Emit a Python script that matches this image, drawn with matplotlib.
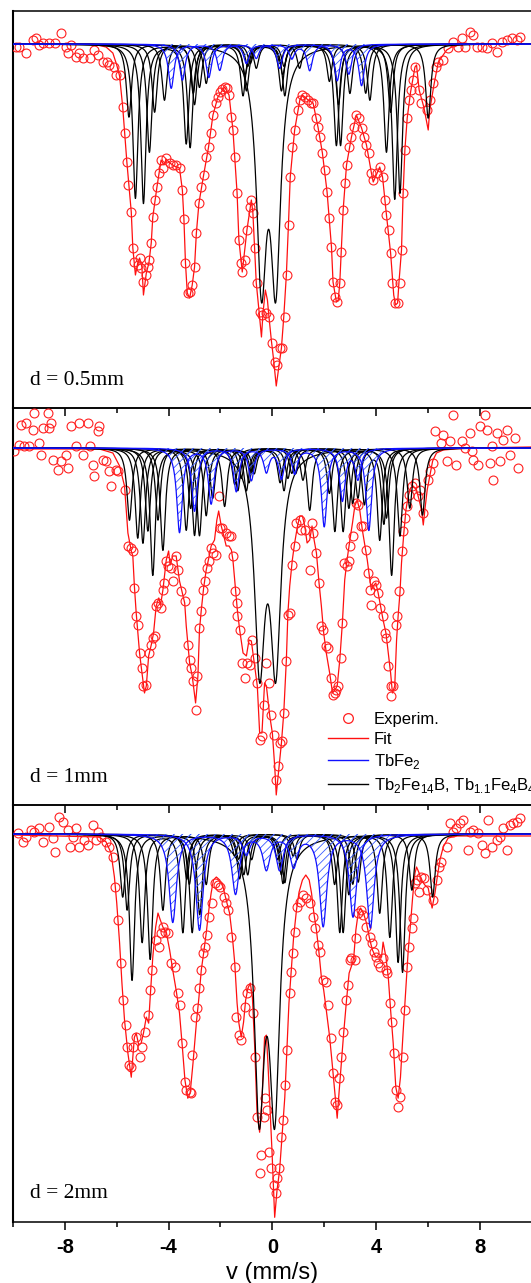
import numpy as np
import matplotlib
matplotlib.use("Agg")
import matplotlib.pyplot as plt
from matplotlib.lines import Line2D
from matplotlib.ticker import MultipleLocator

plt.rcParams['font.family'] = 'Liberation Sans'
plt.rcParams['mathtext.fontset'] = 'custom'
plt.rcParams['mathtext.rm'] = 'Liberation Sans'
plt.rcParams['axes.unicode_minus'] = False
plt.rcParams['hatch.linewidth'] = 0.6

# ---------------- d = 0.5 mm ----------------
# experimental points: (velocity mm/s, absorption arb. units)
exp_05 = [(-9.88, 3), (-9.76, 3), (-9.50, 9), (-9.24, -4), (-9.11, -6), (-8.98, 1), (-8.85, -1), (-8.60, -1),
          (-8.40, -1), (-8.15, -11), (-7.95, 3), (-7.89, 9), (-7.76, 1), (-7.57, 13), (-7.44, 9), (-7.31, 14),
          (-7.05, 14), (-6.86, 6), (-6.73, 11), (-6.54, 18), (-6.38, 18), (-6.28, 21), (-6.09, 23), (-6.02, 31),
          (-5.89, 31), (-5.77, 63), (-5.70, 89), (-5.61, 118), (-5.55, 141), (-5.44, 168), (-5.38, 204), (-5.32, 218),
          (-5.19, 221), (-5.12, 214), (-5.06, 224), (-4.99, 238), (-4.89, 231), (-4.80, 223), (-4.74, 216), (-4.67, 199),
          (-4.61, 173), (-4.52, 156), (-4.45, 143), (-4.38, 129), (-4.29, 116), (-4.20, 124), (-4.09, 114), (-3.96, 119),
          (-3.84, 121), (-3.73, 121), (-3.58, 124), (-3.47, 146), (-3.41, 175), (-3.35, 219), (-3.26, 249), (-3.17, 248),
          (-3.09, 241), (-3.00, 223), (-2.93, 189), (-2.83, 159), (-2.74, 143), (-2.65, 131), (-2.55, 113), (-2.46, 103),
          (-2.38, 89), (-2.29, 71), (-2.19, 59), (-2.10, 53), (-2.01, 48), (-1.93, 45), (-1.84, 43), (-1.75, 44),
          (-1.67, 51), (-1.58, 73), (-1.52, 86), (-1.43, 113), (-1.36, 149), (-1.29, 196), (-1.22, 219), (-1.16, 228),
          (-1.07, 216), (-0.98, 186), (-0.88, 163), (-0.81, 156), (-0.75, 169), (-0.68, 204), (-0.58, 239), (-0.49, 268),
          (-0.40, 271), (-0.23, 269), (-0.13, 273), (0.00, 299), (0.09, 318), (0.19, 321), (0.28, 304), (0.39, 304),
          (0.48, 273), (0.57, 231), (0.63, 181), (0.69, 133), (0.77, 103), (0.86, 86), (0.97, 66), (1.06, 56),
          (1.16, 51), (1.25, 53), (1.38, 56), (1.48, 59), (1.57, 59), (1.67, 74), (1.76, 83), (1.85, 93),
          (1.93, 109), (2.02, 126), (2.11, 148), (2.19, 174), (2.28, 203), (2.34, 238), (2.41, 253), (2.50, 258),
          (2.60, 239), (2.66, 208), (2.73, 166), (2.79, 139), (2.86, 121), (2.95, 103), (3.05, 93), (3.14, 83),
          (3.24, 71), (3.35, 74), (3.44, 84), (3.54, 93), (3.63, 101), (3.73, 109), (3.82, 129), (3.89, 136),
          (4.02, 129), (4.14, 123), (4.25, 133), (4.34, 156), (4.40, 171), (4.49, 186), (4.56, 209), (4.62, 239),
          (4.72, 259), (4.83, 259), (4.92, 239), (4.98, 206), (5.04, 149), (5.11, 106), (5.20, 74), (5.28, 56),
          (5.33, 46), (5.41, 36), (5.50, 23), (5.66, 46), (5.75, 59), (5.95, 66), (6.07, 56), (6.20, 39),
          (6.31, 23), (6.40, 18), (6.59, 16), (6.78, 4), (6.98, -2), (7.17, 3), (7.30, -6), (7.43, 3),
          (7.62, -12), (7.75, -9), (7.88, 3), (8.07, 3), (8.26, 4), (8.46, -1), (8.65, 8), (8.84, -2),
          (9.03, -4), (9.23, -6), (9.42, -4), (9.55, -7)]

fit_05 = [(-10.0, 0), (-6.92, 0), (-6.41, 3), (-6.15, 9), (-6.00, 21), (-5.89, 32), (-5.77, 63), (-5.61, 118),
          (-5.44, 168), (-5.38, 204), (-5.28, 231), (-5.19, 219), (-5.12, 214), (-5.03, 223), (-4.97, 251), (-4.86, 229),
          (-4.76, 219), (-4.67, 199), (-4.61, 173), (-4.45, 143), (-4.29, 116), (-4.18, 121), (-4.09, 115), (-3.96, 119),
          (-3.71, 123), (-3.58, 124), (-3.47, 146), (-3.41, 175), (-3.35, 219), (-3.28, 249), (-3.19, 254), (-3.09, 241),
          (-3.00, 223), (-2.93, 189), (-2.83, 159), (-2.65, 131), (-2.46, 103), (-2.29, 71), (-2.10, 53), (-1.84, 43),
          (-1.67, 51), (-1.52, 86), (-1.36, 149), (-1.29, 196), (-1.16, 228), (-0.98, 186), (-0.81, 156), (-0.75, 169),
          (-0.62, 239), (-0.51, 268), (-0.42, 293), (-0.36, 269), (-0.27, 246), (-0.19, 256), (-0.13, 273), (-0.04, 296),
          (0.05, 316), (0.15, 342), (0.26, 321), (0.35, 304), (0.44, 273), (0.54, 231), (0.62, 181), (0.69, 133),
          (0.86, 86), (1.06, 56), (1.16, 51), (1.38, 56), (1.57, 59), (1.76, 83), (1.93, 109), (2.11, 148),
          (2.28, 203), (2.34, 238), (2.47, 258), (2.54, 256), (2.60, 239), (2.73, 166), (2.86, 121), (3.05, 93),
          (3.24, 71), (3.44, 84), (3.63, 101), (3.82, 129), (3.89, 138), (4.04, 129), (4.14, 123), (4.25, 133),
          (4.40, 171), (4.56, 209), (4.68, 251), (4.75, 261), (4.83, 259), (4.88, 239), (4.98, 206), (5.04, 151),
          (5.11, 106), (5.20, 74), (5.33, 48), (5.50, 23), (5.56, 21), (5.66, 46), (5.84, 63), (6.01, 86),
          (6.07, 66), (6.23, 41), (6.40, 18), (6.72, 6), (6.98, 2), (7.49, 0), (10.0, 0)]

# Tb2Fe14B sextets (line positions mm/s, line depths)
black_pos_05 = [[-5.28, -3.17, -1.13, 0.48, 2.63, 4.92], [-4.97, -3.32, -1.00, 0.35, 2.47, 4.72],
                [-5.53, -3.05, -0.62, 1.05, 3.60, 6.01], [-4.74, -3.00, -1.05, 0.40, 2.55, 4.40],
                [-4.54, -2.81, -0.95, 0.45, 2.99, 4.56], [-4.16, -2.55, -0.85, 0.30, 2.20, 3.76]]
black_dep_05 = [[154, 103, 51, 51, 101, 149], [159, 99, 46, 46, 101, 155],
                [73, 49, 24, 24, 49, 74], [108, 60, 30, 30, 60, 108],
                [68, 43, 22, 22, 49, 68], [56, 39, 19, 19, 37, 56]]
# Tb1.1Fe4B4 doublet
dbl_pos_05 = [-0.42, 0.13]
dbl_dep_05 = [225, 225]
# TbFe2 sextets
blue_pos_05 = [[-3.90, -2.45, -1.00, 0.28, 2.50, 3.44], [-3.47, -2.03, -0.62, 0.75, 1.44, 2.95]]
blue_dep_05 = [[44, 33, 19, 24, 36, 41], [36, 26, 14, 14, 26, 30]]

# ---------------- d = 1 mm ----------------
exp_1 = [(-9.95, 3), (-9.76, -3), (-9.69, -23), (-9.56, -2), (-9.50, -25), (-9.37, -2), (-9.24, -18), (-9.18, -35),
         (-8.98, -5), (-8.92, 7), (-8.85, -20), (-8.66, -35), (-8.60, -20), (-8.53, -25), (-8.47, 12), (-8.28, 22),
         (-8.15, 13), (-7.95, 7), (-7.89, 20), (-7.76, -22), (-7.57, -2), (-7.44, -25), (-7.31, 7), (-7.12, -25),
         (-7.05, -2), (-6.92, 17), (-6.86, 28), (-6.73, -17), (-6.67, -22), (-6.54, 12), (-6.41, 13), (-6.28, 23),
         (-6.22, 38), (-6.02, 22), (-5.96, 23), (-5.70, 42),
         (-5.57, 98), (-5.44, 100), (-5.38, 103), (-5.32, 140), (-5.25, 168), (-5.19, 177), (-5.12, 205), (-5.02, 220),
         (-4.97, 238), (-4.86, 237), (-4.77, 205), (-4.67, 197), (-4.61, 190), (-4.54, 188), (-4.48, 158), (-4.41, 155),
         (-4.31, 160), (-4.22, 142), (-4.16, 135), (-4.09, 113), (-4.03, 118), (-3.90, 120), (-3.84, 133), (-3.73, 108),
         (-3.64, 122), (-3.51, 143), (-3.38, 153), (-3.26, 197), (-3.19, 212), (-3.13, 220), (-3.06, 233), (-2.96, 262),
         (-2.90, 228), (-2.83, 180), (-2.77, 163), (-2.68, 142), (-2.61, 133), (-2.52, 120), (-2.45, 113), (-2.38, 100),
         (-2.29, 105), (-2.19, 107), (-2.06, 48), (-2.03, 80), (-1.93, 80), (-1.80, 85), (-1.67, 88), (-1.58, 88),
         (-1.52, 108), (-1.43, 143), (-1.36, 155), (-1.35, 168), (-1.26, 182), (-1.16, 215), (-1.07, 230), (-0.98, 215),
         (-0.88, 217), (-0.79, 192), (-0.68, 210), (-0.58, 235), (-0.49, 292), (-0.40, 288), (-0.32, 257), (-0.23, 215),
         (-0.13, 235), (-0.04, 267), (0.05, 287), (0.13, 332), (0.22, 318), (0.31, 295), (0.39, 293), (0.45, 265),
         (0.54, 213), (0.60, 167), (0.69, 165), (0.77, 117), (0.86, 98), (0.93, 75), (1.06, 72), (1.12, 82),
         (1.25, 82), (1.44, 122), (1.51, 75), (1.57, 85), (1.70, 105), (1.80, 135), (1.89, 178), (1.96, 182),
         (2.06, 198), (2.15, 200), (2.25, 230), (2.32, 247), (2.41, 245), (2.47, 242), (2.54, 238), (2.63, 210),
         (2.70, 175), (2.77, 115), (2.86, 118), (2.96, 113), (3.01, 98), (3.11, 88), (3.22, 55), (3.31, 57),
         (3.40, 78), (3.50, 78), (3.63, 102), (3.69, 125), (3.76, 142), (3.82, 157), (3.91, 133), (3.99, 137),
         (4.08, 145), (4.14, 160), (4.27, 168), (4.34, 185), (4.40, 190), (4.47, 218), (4.56, 238), (4.59, 248),
         (4.66, 238), (4.76, 177), (4.81, 168), (4.89, 143), (4.98, 103), (5.04, 83), (5.11, 70), (5.20, 58),
         (5.28, 47), (5.37, 38), (5.50, 35), (5.62, 48), (5.71, 42), (5.82, 65), (6.01, 32), (6.07, 23),
         (6.20, 15), (6.27, -17), (6.52, -5), (6.59, -13), (6.72, 13), (6.85, -7), (6.98, -33), (7.10, 17),
         (7.30, -7), (7.43, 0), (7.62, -15), (7.68, 3), (7.75, 12), (7.94, 17), (8.01, -22), (8.20, -33),
         (8.26, -18), (8.39, 15), (8.46, -2), (8.52, 32), (8.65, -15), (8.78, 13), (8.91, -8), (9.03, -18),
         (9.16, 7), (9.36, -10), (9.49, 20)]

fit_1 = [(-10.0, 1), (-6.67, 1), (-6.15, 5), (-5.89, 18), (-5.70, 38), (-5.57, 85), (-5.44, 103), (-5.38, 108),
         (-5.32, 138), (-5.25, 165), (-5.12, 205), (-5.06, 218), (-4.93, 245), (-4.86, 238), (-4.77, 208), (-4.67, 197),
         (-4.58, 185), (-4.48, 158), (-4.38, 150), (-4.31, 157), (-4.22, 142), (-4.09, 112), (-4.00, 103), (-3.94, 117),
         (-3.84, 108), (-3.71, 108), (-3.58, 133), (-3.47, 145), (-3.38, 155), (-3.32, 178), (-3.19, 215), (-3.09, 228),
         (-2.96, 255), (-2.87, 228), (-2.81, 182), (-2.74, 162), (-2.65, 140), (-2.55, 122), (-2.45, 110), (-2.36, 98),
         (-2.23, 92), (-2.14, 72), (-2.07, 63), (-1.97, 78), (-1.88, 87), (-1.78, 98), (-1.67, 98), (-1.58, 102),
         (-1.52, 112), (-1.43, 138), (-1.35, 162), (-1.26, 182), (-1.13, 205), (-1.00, 208), (-0.90, 192), (-0.81, 193),
         (-0.68, 218), (-0.58, 238), (-0.49, 285), (-0.40, 285), (-0.30, 235), (-0.23, 238), (-0.10, 268), (0.00, 285),
         (0.09, 318), (0.15, 347), (0.26, 318), (0.35, 295), (0.44, 265), (0.54, 212), (0.60, 165), (0.67, 138),
         (0.77, 112), (0.86, 95), (0.97, 78), (1.06, 68), (1.16, 68), (1.25, 78), (1.34, 95), (1.44, 92),
         (1.53, 78), (1.61, 92), (1.70, 105), (1.80, 135), (1.89, 158), (1.98, 185), (2.08, 205), (2.21, 225),
         (2.32, 245), (2.41, 242), (2.50, 238), (2.60, 212), (2.70, 175), (2.79, 132), (2.88, 112), (2.99, 92),
         (3.09, 75), (3.18, 58), (3.27, 52), (3.37, 62), (3.47, 82), (3.57, 98), (3.66, 112), (3.76, 132),
         (3.82, 142), (3.89, 138), (3.99, 135), (4.08, 145), (4.17, 158), (4.27, 172), (4.38, 185), (4.47, 205),
         (4.56, 225), (4.63, 245), (4.72, 238), (4.79, 192), (4.85, 168), (4.92, 145), (4.98, 115), (5.07, 85),
         (5.15, 62), (5.24, 48), (5.33, 40), (5.43, 38), (5.56, 42), (5.66, 52), (5.75, 62), (5.82, 77),
         (5.88, 62), (5.97, 42), (6.07, 28), (6.18, 13), (6.33, 5), (6.59, 2), (7.49, 0), (10.0, -1)]

black_pos_1 = [[-4.61, -2.81, -1.00, 0.45, 2.73, 4.60], [-4.22, -2.55, -0.90, 0.30, 2.41, 4.14],
               [-4.99, -3.00, -1.33, 0.60, 2.95, 4.92], [-5.51, -3.32, -1.45, 1.18, 3.30, 5.79],
               [-5.19, -3.15, -1.20, 1.44, 3.10, 5.30], [-4.41, -1.84, -0.70, 0.90, 2.20, 4.40],
               [-4.80, -2.30, -0.80, 0.75, 3.55, 4.30]]
black_dep_1 = [[127, 87, 42, 42, 83, 127], [102, 67, 34, 34, 83, 92],
               [95, 87, 42, 30, 60, 88], [72, 82, 36, 32, 50, 67],
               [90, 60, 30, 62, 55, 60], [72, 58, 25, 25, 45, 70],
               [83, 50, 25, 25, 55, 75]]
dbl_pos_1 = [-0.49, 0.13]
dbl_dep_1 = [208, 208]
blue_pos_1 = [[-3.58, -2.36, -0.81, 0.86, 2.00, 3.72], [-3.00, -1.39, -0.23, 0.35, 2.70, 3.30]]
blue_dep_1 = [[84, 55, 32, 25, 78, 82], [63, 43, 23, 30, 52, 30]]

# ---------------- d = 2 mm ----------------
exp_2 = [(-9.82, -1), (-9.63, 8), (-9.50, 3), (-9.31, -4), (-9.18, -2), (-8.98, -6), (-8.85, 8), (-8.60, -7),
         (-8.47, 4), (-8.40, 18), (-8.21, -17), (-8.08, -12), (-7.89, -4), (-7.82, 13), (-7.70, 3), (-7.57, -6),
         (-7.44, 13), (-7.25, 6), (-7.12, 11), (-6.92, -9), (-6.80, 6), (-6.73, -2), (-6.60, 3), (-6.41, 8),
         (-6.28, 13), (-6.15, 23),
         (-6.05, 53), (-5.96, 86), (-5.83, 129), (-5.74, 166), (-5.66, 191), (-5.60, 213), (-5.53, 231), (-5.44, 233),
         (-5.38, 213), (-5.25, 203), (-5.12, 223), (-5.02, 213), (-4.90, 198), (-4.80, 181), (-4.71, 156), (-4.63, 136),
         (-4.48, 106), (-4.38, 113), (-4.29, 99), (-4.22, 93), (-4.13, 98), (-4.03, 99), (-3.90, 129), (-3.77, 133),
         (-3.64, 159), (-3.55, 171), (-3.47, 209), (-3.38, 248), (-3.32, 256), (-3.19, 258), (-3.13, 259), (-3.09, 221),
         (-3.00, 183), (-2.91, 174), (-2.83, 154), (-2.77, 136), (-2.68, 119), (-2.59, 113), (-2.52, 101), (-2.45, 83),
         (-2.32, 69), (-2.23, 49), (-2.10, 51), (-2.01, 53), (-1.88, 63), (-1.78, 69), (-1.71, 76), (-1.58, 103),
         (-1.45, 133), (-1.39, 183), (-1.29, 201), (-1.20, 206), (-1.07, 173), (-0.98, 159), (-0.88, 154), (-0.75, 179),
         (-0.68, 223), (-0.59, 283), (-0.49, 339), (-0.42, 321), (-0.32, 283), (-0.27, 264), (-0.19, 276), (-0.13, 318),
         (-0.04, 334), (0.05, 351), (0.13, 359), (0.18, 344), (0.26, 334), (0.35, 303), (0.41, 286), (0.50, 251),
         (0.58, 216), (0.67, 159), (0.73, 138), (0.80, 119), (0.89, 98), (0.95, 73), (1.06, 68), (1.18, 61),
         (1.31, 64), (1.44, 69), (1.57, 83), (1.63, 94), (1.76, 111), (1.85, 118), (1.96, 146), (2.06, 148),
         (2.15, 171), (2.25, 204), (2.34, 239), (2.41, 268), (2.50, 271), (2.57, 244), (2.66, 223), (2.73, 198),
         (2.83, 166), (2.90, 151), (2.99, 126), (3.05, 124), (3.18, 126), (3.22, 104), (3.31, 79), (3.40, 76),
         (3.50, 81), (3.63, 93), (3.76, 103), (3.86, 109), (3.91, 118), (3.99, 123), (4.08, 129), (4.17, 133),
         (4.27, 124), (4.38, 136), (4.44, 139), (4.53, 169), (4.62, 188), (4.68, 219), (4.76, 256), (4.85, 273),
         (4.92, 263), (5.02, 223), (5.11, 176), (5.20, 133), (5.28, 113), (5.37, 94), (5.43, 84), (5.50, 49),
         (5.56, 46), (5.66, 58), (5.75, 43), (5.84, 44), (5.97, 56), (6.20, 66), (6.33, 46), (6.44, 33),
         (6.52, 28), (6.72, 13), (6.85, -11), (6.98, -2), (7.10, -6), (7.23, -11), (7.36, -14), (7.55, 16),
         (7.62, -2), (7.75, -4), (7.94, -1), (8.07, 11), (8.20, 19), (8.33, -14), (8.46, 13), (8.65, 6),
         (8.78, 3), (8.91, -6), (9.03, 16), (9.16, -9), (9.29, -11), (9.42, -12), (9.55, -16)]

fit_2 = [(-10.0, 1), (-6.67, 3), (-6.41, 8), (-6.22, 19), (-6.09, 43), (-6.00, 69), (-5.89, 109), (-5.80, 149),
         (-5.70, 186), (-5.57, 219), (-5.44, 243), (-5.32, 203), (-5.25, 199), (-5.15, 211), (-5.06, 209), (-4.97, 199),
         (-4.86, 183), (-4.77, 189), (-4.71, 163), (-4.61, 123), (-4.50, 93), (-4.41, 79), (-4.32, 86), (-4.22, 93),
         (-4.09, 98), (-3.96, 116), (-3.84, 136), (-3.71, 156), (-3.58, 179), (-3.47, 213), (-3.37, 246), (-3.26, 264),
         (-3.17, 259), (-3.06, 229), (-2.93, 189), (-2.83, 163), (-2.74, 136), (-2.65, 119), (-2.55, 99), (-2.45, 76),
         (-2.36, 59), (-2.27, 46), (-2.16, 43), (-2.03, 46), (-1.90, 53), (-1.78, 66), (-1.65, 79), (-1.54, 103),
         (-1.45, 129), (-1.36, 169), (-1.29, 189), (-1.20, 203), (-1.11, 188), (-1.03, 166), (-0.94, 154), (-0.85, 149),
         (-0.77, 163), (-0.68, 213), (-0.59, 279), (-0.49, 298), (-0.40, 266), (-0.30, 203), (-0.23, 201), (-0.17, 229),
         (-0.10, 269), (-0.01, 319), (0.09, 383), (0.18, 356), (0.28, 336), (0.39, 296), (0.48, 263), (0.57, 209),
         (0.64, 169), (0.73, 136), (0.82, 103), (0.93, 76), (1.03, 58), (1.16, 46), (1.29, 41), (1.42, 46),
         (1.51, 59), (1.60, 79), (1.70, 96), (1.80, 119), (1.89, 143), (1.98, 156), (2.08, 176), (2.21, 203),
         (2.32, 233), (2.41, 259), (2.50, 284), (2.57, 259), (2.66, 229), (2.75, 199), (2.86, 166), (2.96, 139),
         (3.09, 129), (3.14, 123), (3.22, 96), (3.31, 79), (3.40, 74), (3.50, 78), (3.63, 89), (3.76, 106),
         (3.86, 116), (3.99, 123), (4.21, 123), (4.27, 108), (4.38, 123), (4.47, 143), (4.56, 176), (4.66, 209),
         (4.76, 253), (4.85, 264), (4.94, 243), (5.04, 199), (5.15, 153), (5.24, 116), (5.33, 89), (5.41, 63),
         (5.50, 39), (5.56, 33), (5.66, 39), (5.75, 46), (5.88, 51), (6.01, 54), (6.16, 74), (6.27, 59),
         (6.36, 43), (6.46, 26), (6.59, 13), (6.78, 4), (7.10, 2), (10.0, 2)]

black_pos_2 = [[-5.41, -3.09, -1.26, 0.48, 2.60, 5.02], [-4.71, -2.80, -0.95, 0.35, 2.73, 4.85],
               [-5.02, -3.45, -1.10, 0.41, 2.95, 4.53], [-4.22, -2.55, -0.80, 0.20, 2.40, 4.14],
               [-5.77, -3.30, -1.45, 0.80, 3.31, 6.18], [-5.60, -3.20, -1.30, 0.95, 3.10, 5.38]]
black_dep_2 = [[146, 98, 44, 48, 98, 138], [125, 80, 40, 40, 98, 128],
               [108, 98, 40, 49, 60, 103], [76, 50, 25, 25, 50, 79],
               [63, 45, 22, 22, 48, 63], [76, 50, 25, 25, 50, 56]]
dbl_pos_2 = [-0.51, 0.09]
dbl_dep_2 = [259, 259]
blue_pos_2 = [[-3.84, -1.42, -0.23, 0.82, 1.96, 3.78], [-2.81, -1.00, 0.28, 3.11]]
blue_dep_2 = [[88, 59, 34, 31, 91, 93], [96, 20, 36, 83]]

labels = ['d = 0.5mm', 'd = 1mm', 'd = 2mm']
# half widths at half maximum (mm/s): sextet lines, doublet, TbFe2 lines
hw_black = [0.12, 0.12, 0.12]
hw_dbl = [0.23, 0.24, 0.24]
hw_blue = [0.13, 0.13, 0.17]


def lorentz_sum(v, pos, dep, hw):
    a = np.zeros_like(v)
    for p, d in zip(pos, dep):
        a += d * hw ** 2 / ((v - p) ** 2 + hw ** 2)
    return a


fig = plt.figure(figsize=(5.31, 12.83), dpi=100)

# axes boxes [left, bottom, width, height] and y-limits
boxes = [[0.0245, 0.6820, 0.9768, 0.3094], [0.0245, 0.3726, 0.9768, 0.3094], [0.0245, 0.0473, 0.9768, 0.3253]]
ylims = [(-364, 33), (-357, 40), (-388, 29)]

data = [(exp_05, fit_05, black_pos_05, black_dep_05, dbl_pos_05, dbl_dep_05, blue_pos_05, blue_dep_05),
        (exp_1, fit_1, black_pos_1, black_dep_1, dbl_pos_1, dbl_dep_1, blue_pos_1, blue_dep_1),
        (exp_2, fit_2, black_pos_2, black_dep_2, dbl_pos_2, dbl_dep_2, blue_pos_2, blue_dep_2)]

v = np.linspace(-10.5, 10.5, 4201)
axes = []
for i, (ex, ft, bp, bd, dp, dd, up, ud) in enumerate(data):
    ax = fig.add_axes(boxes[i])
    ax.patch.set_visible(False)
    ex = np.array(ex, dtype=float)
    ft = np.array(ft, dtype=float)

    ax.plot(ft[:, 0], -ft[:, 1], color='#ff1010', lw=0.9, zorder=2)
    ax.plot(ex[:, 0], -ex[:, 1], 'o', mfc='none', mec='#ff2020', ms=6.4, mew=0.8, zorder=3)

    for pos, dep in zip(bp, bd):
        ax.plot(v, -lorentz_sum(v, pos, dep, hw_black[i]), color='black', lw=0.9, zorder=4)
    ax.plot(v, -lorentz_sum(v, dp, dd, hw_dbl[i]), color='black', lw=0.9, zorder=4)

    for pos, dep in zip(up, ud):
        y = -lorentz_sum(v, pos, dep, hw_blue[i])
        ax.fill_between(v, 0, y, facecolor='none', edgecolor='#3a5cff', hatch='////', linewidth=0, zorder=5)
        ax.plot(v, y, color='#1010ff', lw=0.9, zorder=6)

    ax.set_xlim(-10, 10)
    ax.set_ylim(*ylims[i])
    ax.set_yticks([])
    ax.xaxis.set_major_locator(MultipleLocator(4))
    ax.xaxis.set_minor_locator(MultipleLocator(2))
    ax.tick_params(axis='x', which='both', direction='out', top=False, width=1.1, pad=5)
    ax.tick_params(axis='x', which='major', length=6)
    ax.tick_params(axis='x', which='minor', length=3.5)
    for s in ax.spines.values():
        s.set_linewidth(1.1)
    ax.spines['left'].set_linewidth(1.5)
    if i < 2:
        ax.tick_params(axis='x', labelbottom=False)
    else:
        ax.tick_params(axis='x', labelsize=14.5)
        for t in ax.get_xticklabels():
            t.set_fontweight('bold')
        ax.set_xlabel('v (mm/s)', fontsize=17, labelpad=4)

    ax.text(0.033, 0.069, labels[i], transform=ax.transAxes, fontfamily='Liberation Serif',
            fontsize=15.5, va='center', ha='left', zorder=8,
            bbox=dict(facecolor='white', edgecolor='none', pad=3))
    axes.append(ax)

handles = [Line2D([], [], ls='none', marker='o', mfc='none', mec='#ff2020', ms=7, mew=0.9),
           Line2D([], [], color='#ff1010', lw=1.0),
           Line2D([], [], color='#1010ff', lw=1.0),
           Line2D([], [], color='black', lw=1.0)]
names = ['Experim.', 'Fit', 'TbFe$_2$', 'Tb$_2$Fe$_{14}$B, Tb$_{1.1}$Fe$_4$B$_4$']
axes[1].legend(handles, names, loc='upper left', bbox_to_anchor=(0.607, 0.235), frameon=False,
               fontsize=12, handlelength=2.4, handletextpad=0.35, labelspacing=0.3,
               borderpad=0, borderaxespad=0)

fig.savefig('out.png', dpi=100)
